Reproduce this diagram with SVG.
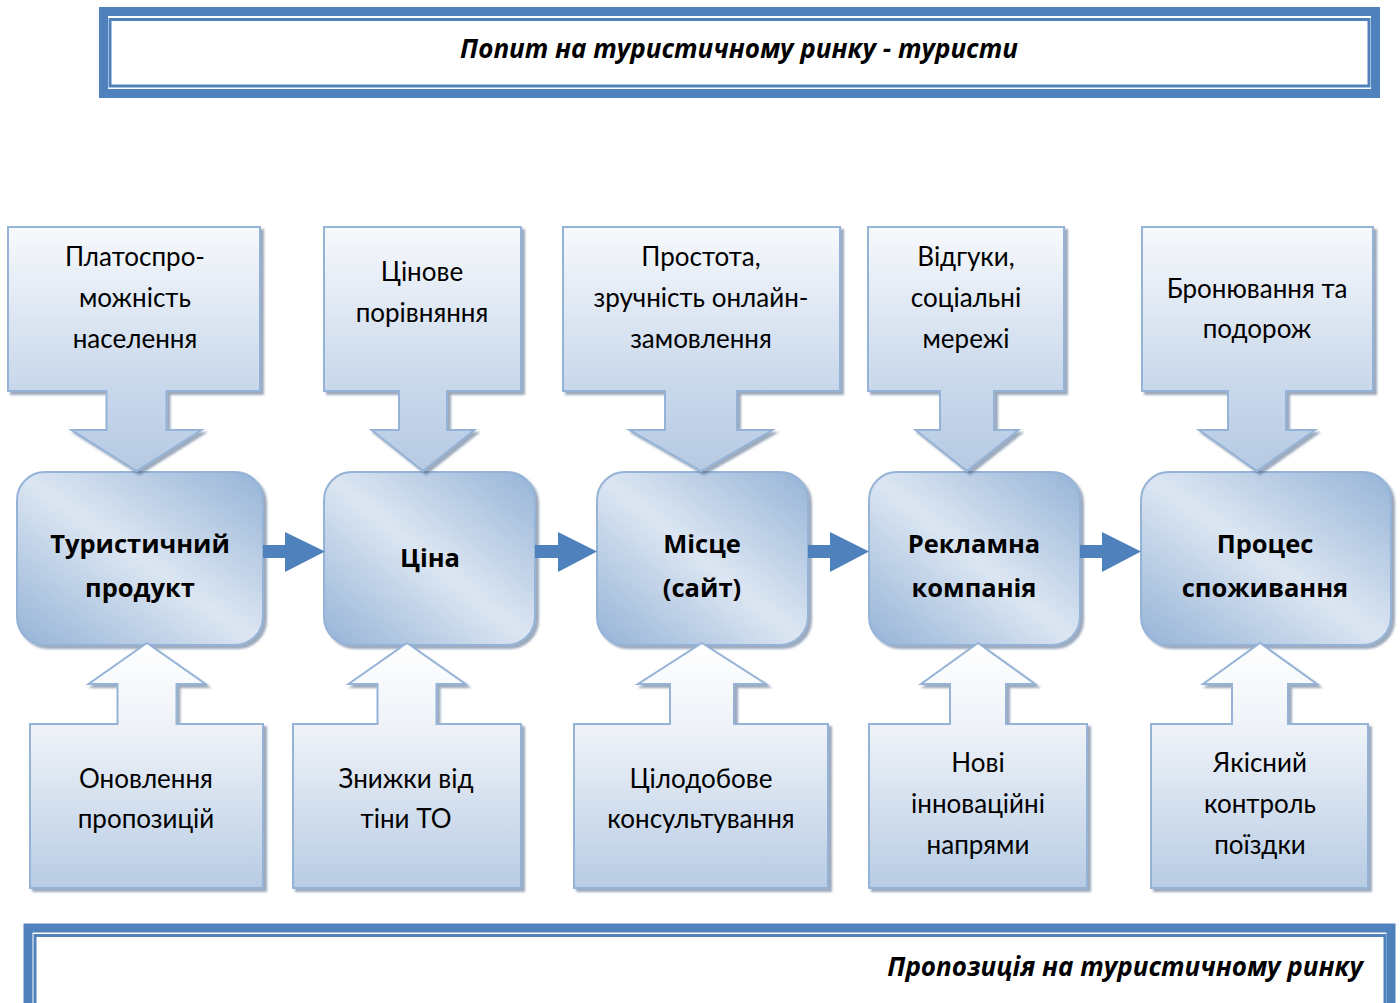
<svg xmlns="http://www.w3.org/2000/svg" width="1400" height="1003" viewBox="0 0 1400 1003">
<defs>
<linearGradient id="gDown" x1="0" y1="0" x2="0" y2="1">
<stop offset="0" stop-color="#f7f9fc"/>
<stop offset="0.65" stop-color="#c9d8eb"/>
<stop offset="1" stop-color="#b6cae3"/>
</linearGradient>
<linearGradient id="gUp" x1="0" y1="0" x2="0" y2="1">
<stop offset="0" stop-color="#ffffff"/>
<stop offset="0.35" stop-color="#eef2f8"/>
<stop offset="1" stop-color="#b8cce4"/>
</linearGradient>
<linearGradient id="gMid" x1="1" y1="0" x2="0" y2="1">
<stop offset="0" stop-color="#95b3d7"/>
<stop offset="0.5" stop-color="#dce6f2"/>
<stop offset="1" stop-color="#95b3d7"/>
</linearGradient>
<filter id="sh" x="-10%" y="-10%" width="125%" height="125%">
<feGaussianBlur in="SourceAlpha" stdDeviation="1.2"/>
<feOffset dx="3" dy="3" result="o"/>
<feFlood flood-color="#4a6485" flood-opacity="0.55"/>
<feComposite in2="o" operator="in"/>
<feMerge><feMergeNode/><feMergeNode in="SourceGraphic"/></feMerge>
</filter>
</defs>
<style>
.co{stroke:#95b3d7;stroke-width:2;filter:url(#sh)}
.dn{fill:url(#gDown)}
.up{fill:url(#gUp)}
.mid{fill:url(#gMid);stroke:#95b3d7;stroke-width:2;filter:url(#sh)}
.t{font-family:Lato,"Open Sans",sans-serif;font-size:26px;fill:#000;text-anchor:middle}
.b{font-family:"Open Sans","Noto Sans",sans-serif;font-size:25.5px;font-weight:bold;fill:#000;text-anchor:middle}
.bi{font-family:"Open Sans","Noto Sans",sans-serif;font-size:26px;font-weight:bold;font-style:italic;fill:#000}
.fo{fill:none;stroke:#4f81bd;stroke-width:9}
.fi{fill:none;stroke:#4f81bd;stroke-width:3}
.arr{fill:#4f81bd}
</style>

<g id="banner-top">
<rect x="103.5" y="11.5" width="1272" height="82" class="fo"/>
<rect x="110" y="19.5" width="1259" height="66.5" class="fi"/>
<text x="739" y="58" class="bi" text-anchor="middle">Попит на туристичному ринку - туристи</text>
</g>

<g id="banner-bottom">
<rect x="28" y="928" width="1363" height="90" class="fo"/>
<rect x="35" y="935.5" width="1350" height="80" class="fi"/>
<text x="1363" y="976" class="bi" text-anchor="end">Пропозиція на туристичному ринку</text>
</g>

<g id="mid1"><rect x="17" y="472" width="246" height="173" rx="28" class="mid"/>
<text x="140" y="553" class="b">Туристичний</text><text x="140" y="597" class="b">продукт</text></g>
<g id="mid2"><rect x="324" y="472" width="211" height="173" rx="28" class="mid"/>
<text x="430" y="567" class="b">Ціна</text></g>
<g id="mid3"><rect x="597" y="472" width="211" height="173" rx="28" class="mid"/>
<text x="702" y="553" class="b">Місце</text><text x="702" y="597" class="b">(сайт)</text></g>
<g id="mid4"><rect x="869" y="472" width="211" height="173" rx="28" class="mid"/>
<text x="974" y="553" class="b">Рекламна</text><text x="974" y="597" class="b">компанія</text></g>
<g id="mid5"><rect x="1141" y="472" width="250" height="173" rx="28" class="mid"/>
<text x="1265" y="553" class="b">Процес</text><text x="1265" y="597" class="b">споживання</text></g>

<g id="connectors">
<polygon class="arr" points="263,545 285,545 285,532 325,551.5 285,572 285,558 263,558"/>
<polygon class="arr" points="535,545 558,545 558,532 597,551.5 558,572 558,558 535,558"/>
<polygon class="arr" points="808,545 830,545 830,532 869,551.5 830,572 830,558 808,558"/>
<polygon class="arr" points="1080,545 1102,545 1102,532 1141,551.5 1102,572 1102,558 1080,558"/>
</g>

<g id="top1"><path class="co dn" d="M8,227H260V391H166.5V430H201.5L136.5,471L71.5,430H106.5V391H8Z"/>
<text x="135" y="266" class="t">Платоспро-</text><text x="135" y="307" class="t">можність</text><text x="135" y="348" class="t">населення</text></g>
<g id="top2"><path class="co dn" d="M324,227H521V391H447V430H474.5L423,471L371.5,430H399V391H324Z"/>
<text x="422" y="281" class="t">Цінове</text><text x="422" y="322" class="t">порівняння</text></g>
<g id="top3"><path class="co dn" d="M563,227H840V391H737V430H772.5L701,471L629.5,430H665V391H563Z"/>
<text x="701" y="266" class="t">Простота,</text><text x="701" y="307" class="t">зручність онлайн-</text><text x="701" y="348" class="t">замовлення</text></g>
<g id="top4"><path class="co dn" d="M868,227H1064V391H994V430H1018.5L967,471L915.5,430H940V391H868Z"/>
<text x="966" y="266" class="t">Відгуки,</text><text x="966" y="307" class="t">соціальні</text><text x="966" y="348" class="t">мережі</text></g>
<g id="top5"><path class="co dn" d="M1142,227H1373V391H1286V430H1315L1257,471L1199,430H1228V391H1142Z"/>
<text x="1257" y="298" class="t">Бронювання та</text><text x="1257" y="338" class="t">подорож</text></g>

<g id="bot1"><path class="co up" d="M147,643L205.5,684H176.5V724H263V888H30V724H117.5V684H88.5Z"/>
<text x="146" y="788" class="t">Оновлення</text><text x="146" y="828" class="t">пропозицій</text></g>
<g id="bot2"><path class="co up" d="M407,643L465.5,684H436.5V724H521V888H293V724H377.5V684H348.5Z"/>
<text x="406" y="788" class="t">Знижки від</text><text x="406" y="828" class="t">тіни ТО</text></g>
<g id="bot3"><path class="co up" d="M702,643L766,684H734V724H828V888H574V724H670V684H638Z"/>
<text x="701" y="788" class="t">Цілодобове</text><text x="701" y="828" class="t">консультування</text></g>
<g id="bot4"><path class="co up" d="M978,643L1035,684H1006V724H1087V888H869V724H950V684H921Z"/>
<text x="978" y="772" class="t">Нові</text><text x="978" y="813" class="t">інноваційні</text><text x="978" y="854" class="t">напрями</text></g>
<g id="bot5"><path class="co up" d="M1260,643L1317,684H1288V724H1368V888H1151V724H1232V684H1203Z"/>
<text x="1260" y="772" class="t">Якісний</text><text x="1260" y="813" class="t">контроль</text><text x="1260" y="854" class="t">поїздки</text></g>
</svg>
